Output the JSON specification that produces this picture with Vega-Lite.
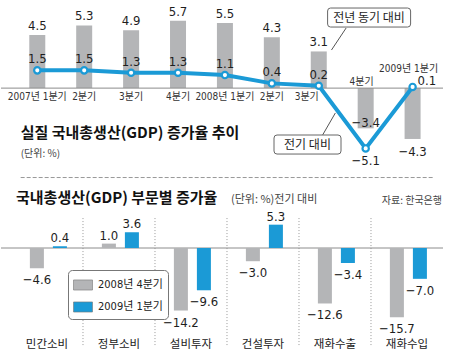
{
  "$schema": "https://vega.github.io/schema/vega-lite/v6.json",
  "padding": 0,
  "background": "white",
  "spacing": 0,
  "bounds": "flush",
  "config": {
    "view": {"stroke": null},
    "axis": {"disable": true},
    "text": {"font": "Liberation Sans Narrow, DejaVu Sans Condensed, Liberation Sans, Noto Sans CJK KR", "fontSize": 13, "color": "#1e1e1e"},
    "legend": {"labelFont": "Liberation Sans Narrow, DejaVu Sans Condensed, Liberation Sans, Noto Sans CJK KR"}
  },
  "resolve": {"scale": {"color": "independent"}, "legend": {"color": "independent"}},
  "datasets": {
    "quarters": [
      {"q": "2007년 1분기", "n": 0, "yoy": 4.5, "qoq": 1.5},
      {"q": "2분기", "n": 1, "yoy": 5.3, "qoq": 1.5},
      {"q": "3분기", "n": 2, "yoy": 4.9, "qoq": 1.3},
      {"q": "4분기", "n": 3, "yoy": 5.7, "qoq": 1.3},
      {"q": "2008년 1분기", "n": 4, "yoy": 5.5, "qoq": 1.1},
      {"q": "2분기", "n": 5, "yoy": 4.3, "qoq": 0.4},
      {"q": "3분기", "n": 6, "yoy": 3.1, "qoq": 0.2},
      {"q": "4분기", "n": 7, "yoy": -3.4, "qoq": -5.1},
      {"q": "2009년 1분기", "n": 8, "yoy": -4.3, "qoq": 0.1}
    ],
    "sectors": [
      {"cat": "민간소비", "period": "2008년 4분기", "value": -4.6},
      {"cat": "민간소비", "period": "2009년 1분기", "value": 0.4},
      {"cat": "정부소비", "period": "2008년 4분기", "value": 1.0},
      {"cat": "정부소비", "period": "2009년 1분기", "value": 3.6},
      {"cat": "설비투자", "period": "2008년 4분기", "value": -14.2},
      {"cat": "설비투자", "period": "2009년 1분기", "value": -9.6},
      {"cat": "건설투자", "period": "2008년 4분기", "value": -3.0},
      {"cat": "건설투자", "period": "2009년 1분기", "value": 5.3},
      {"cat": "재화수출", "period": "2008년 4분기", "value": -12.6},
      {"cat": "재화수출", "period": "2009년 1분기", "value": -3.4},
      {"cat": "재화수입", "period": "2008년 4분기", "value": -15.7},
      {"cat": "재화수입", "period": "2009년 1분기", "value": -7.0}
    ],
    "one": [{}]
  },
  "vconcat": [
    {
      "width": 442,
      "height": 178,
      "layer": [
        {
          "data": {"name": "quarters"},
          "mark": {"type": "bar", "width": 16, "color": "#b4b5b7"},
          "encoding": {
            "x": {"field": "n", "type": "quantitative", "scale": {"domain": [-0.6667, 8.5417], "nice": false, "zero": false}, "axis": null},
            "y": {"field": "yoy", "type": "quantitative", "scale": {"domain": [-7.6, 7.45], "nice": false, "zero": false}, "axis": null},
            "y2": {"datum": 0}
          }
        },
        {
          "data": {"name": "one"},
          "mark": {"type": "rule", "color": "#8c8c8c", "strokeWidth": 1},
          "encoding": {"y": {"datum": 0, "axis": null}}
        },
        {
          "data": {"name": "one"},
          "mark": {"type": "rule", "color": "#999999", "strokeWidth": 1, "strokeDash": [4, 2]},
          "encoding": {"x": {"datum": -0.354, "axis": null}, "x2": {"datum": 8.4375}, "y": {"datum": -7.56, "axis": null}}
        },
        {
          "data": {"name": "quarters"},
          "transform": [{"filter": "datum.yoy > 0"}],
          "mark": {"type": "text", "baseline": "alphabetic", "dy": -5},
          "encoding": {
            "x": {"field": "n", "type": "quantitative", "axis": null},
            "y": {"field": "yoy", "type": "quantitative", "axis": null},
            "text": {"field": "yoy", "type": "quantitative", "format": ".1f"}
          }
        },
        {
          "data": {"name": "quarters"},
          "transform": [{"filter": "datum.n == 8"}],
          "mark": {"type": "text", "baseline": "top", "dy": 7},
          "encoding": {
            "x": {"field": "n", "type": "quantitative", "axis": null},
            "y": {"field": "yoy", "type": "quantitative", "axis": null},
            "text": {"field": "yoy", "type": "quantitative", "format": ".1f"}
          }
        },
        {
          "data": {"name": "quarters"},
          "transform": [{"filter": "datum.n == 7"}],
          "mark": {"type": "text", "baseline": "alphabetic", "dy": -1},
          "encoding": {
            "x": {"field": "n", "type": "quantitative", "axis": null},
            "y": {"field": "yoy", "type": "quantitative", "axis": null},
            "text": {"field": "yoy", "type": "quantitative", "format": ".1f"}
          }
        },
        {
          "data": {"name": "quarters"},
          "mark": {"type": "line", "color": "#1b9ad6", "strokeWidth": 4},
          "encoding": {
            "x": {"field": "n", "type": "quantitative", "axis": null},
            "y": {"field": "qoq", "type": "quantitative", "axis": null}
          }
        },
        {
          "data": {"name": "quarters"},
          "mark": {"type": "point", "shape": "circle", "filled": true, "fill": "white", "stroke": "#1b9ad6", "strokeWidth": 2.2, "size": 40, "opacity": 1},
          "encoding": {
            "x": {"field": "n", "type": "quantitative", "axis": null},
            "y": {"field": "qoq", "type": "quantitative", "axis": null}
          }
        },
        {
          "data": {"name": "quarters"},
          "transform": [{"filter": "datum.n < 7"}],
          "mark": {"type": "text", "baseline": "alphabetic", "dy": -7},
          "encoding": {
            "x": {"field": "n", "type": "quantitative", "axis": null},
            "y": {"field": "qoq", "type": "quantitative", "axis": null},
            "text": {"field": "qoq", "type": "quantitative", "format": ".1f"}
          }
        },
        {
          "data": {"name": "quarters"},
          "transform": [{"filter": "datum.n == 7"}],
          "mark": {"type": "text", "baseline": "top", "dy": 7},
          "encoding": {
            "x": {"field": "n", "type": "quantitative", "axis": null},
            "y": {"field": "qoq", "type": "quantitative", "axis": null},
            "text": {"field": "qoq", "type": "quantitative", "format": ".1f"}
          }
        },
        {
          "data": {"name": "quarters"},
          "transform": [{"filter": "datum.n == 8"}],
          "mark": {"type": "text", "baseline": "alphabetic", "align": "left", "dx": 5, "dy": -2},
          "encoding": {
            "x": {"field": "n", "type": "quantitative", "axis": null},
            "y": {"field": "qoq", "type": "quantitative", "axis": null},
            "text": {"field": "qoq", "type": "quantitative", "format": ".1f"}
          }
        },
        {
          "data": {"name": "quarters"},
          "transform": [{"filter": "datum.n <= 5"}],
          "mark": {"type": "text", "baseline": "top", "dy": 4, "fontSize": 10, "color": "#333333"},
          "encoding": {
            "x": {"field": "n", "type": "quantitative", "axis": null},
            "y": {"datum": 0, "axis": null},
            "text": {"field": "q"}
          }
        },
        {
          "data": {"name": "quarters"},
          "transform": [{"filter": "datum.n == 6"}],
          "mark": {"type": "text", "baseline": "top", "dy": 4, "dx": -12, "fontSize": 10, "color": "#333333"},
          "encoding": {
            "x": {"field": "n", "type": "quantitative", "axis": null},
            "y": {"datum": 0, "axis": null},
            "text": {"field": "q"}
          }
        },
        {
          "data": {"name": "quarters"},
          "transform": [{"filter": "datum.n == 7"}],
          "mark": {"type": "text", "baseline": "alphabetic", "dy": -3, "dx": -4, "fontSize": 10, "color": "#333333"},
          "encoding": {
            "x": {"field": "n", "type": "quantitative", "axis": null},
            "y": {"datum": 0, "axis": null},
            "text": {"field": "q"}
          }
        },
        {
          "data": {"name": "quarters"},
          "transform": [{"filter": "datum.n == 8"}],
          "mark": {"type": "text", "baseline": "alphabetic", "dy": -16, "dx": -4, "fontSize": 10, "color": "#333333"},
          "encoding": {
            "x": {"field": "n", "type": "quantitative", "axis": null},
            "y": {"datum": 0, "axis": null},
            "text": {"field": "q"}
          }
        },
        {
          "data": {"name": "one"},
          "mark": {"type": "rule", "color": "#555555", "strokeWidth": 1},
          "encoding": {"x": {"datum": 6.583, "axis": null}, "y": {"datum": 5.08, "axis": null}, "x2": {"datum": 6.271}, "y2": {"datum": 3.22}}
        },
        {
          "data": {"name": "one"},
          "mark": {"type": "point", "shape": "M-0.928,-0.229H0.928Q1,-0.229 1,-0.157V0.157Q1,0.229 0.928,0.229H-0.928Q-1,0.229 -1,0.157V-0.157Q-1,-0.229 -0.928,-0.229Z", "size": 6889, "filled": true, "fill": "white", "stroke": "#666666", "strokeWidth": 1, "opacity": 1},
          "encoding": {"x": {"datum": 7.073, "axis": null}, "y": {"datum": 5.968, "axis": null}}
        },
        {
          "data": {"name": "one"},
          "mark": {"type": "text", "text": "전년 동기 대비", "font": "Noto Sans CJK KR", "fontSize": 12, "baseline": "middle", "color": "#1e1e1e"},
          "encoding": {"x": {"datum": 7.073, "axis": null}, "y": {"datum": 5.968, "axis": null}}
        },
        {
          "data": {"name": "one"},
          "mark": {"type": "rule", "color": "#555555", "strokeWidth": 1},
          "encoding": {"x": {"datum": 6.083, "axis": null}, "y": {"datum": -3.96, "axis": null}, "x2": {"datum": 6.354}, "y2": {"datum": -2.1}}
        },
        {
          "data": {"name": "one"},
          "mark": {"type": "point", "shape": "M-0.910,-0.284H0.910Q1,-0.284 1,-0.194V0.194Q1,0.284 0.910,0.284H-0.910Q-1,0.284 -1,0.194V-0.194Q-1,-0.284 -0.910,-0.284Z", "size": 4489, "filled": true, "fill": "white", "stroke": "#666666", "strokeWidth": 1, "opacity": 1},
          "encoding": {"x": {"datum": 5.76, "axis": null}, "y": {"datum": -4.77, "axis": null}}
        },
        {
          "data": {"name": "one"},
          "mark": {"type": "text", "text": "전기 대비", "font": "Noto Sans CJK KR", "fontSize": 12, "baseline": "middle", "color": "#1e1e1e"},
          "encoding": {"x": {"datum": 5.76, "axis": null}, "y": {"datum": -4.77, "axis": null}}
        },
        {
          "data": {"name": "one"},
          "mark": {"type": "text", "text": "실질 국내총생산(GDP) 증가율 추이", "font": "Noto Sans CJK KR", "fontSize": 15, "fontWeight": "bold", "align": "left", "baseline": "alphabetic", "color": "#111111"},
          "encoding": {"x": {"datum": -0.354, "axis": null}, "y": {"datum": -4.22, "axis": null}}
        },
        {
          "data": {"name": "one"},
          "mark": {"type": "text", "text": "(단위: %)", "font": "Noto Sans CJK KR", "fontSize": 10, "align": "left", "baseline": "alphabetic", "color": "#444444"},
          "encoding": {"x": {"datum": -0.354, "axis": null}, "y": {"datum": -5.82, "axis": null}}
        }
      ]
    },
    {
      "width": 442,
      "height": 177,
      "layer": [
        {
          "data": {"name": "sectors"},
          "transform": [{"filter": "datum.period == '2008년 4분기' && datum.cat != '민간소비'"}],
          "mark": {"type": "rule", "color": "#9a9a9a", "strokeWidth": 1, "strokeDash": [1, 2]},
          "encoding": {
            "x": {"field": "cat", "type": "nominal", "bandPosition": 0, "scale": {"domain": ["민간소비", "정부소비", "설비투자", "건설투자", "재화수출", "재화수입"], "paddingInner": 0, "paddingOuter": 0.0694, "align": 1}, "axis": null},
            "y": {"datum": 6.8, "scale": {"domain": [-24.3, 15.9], "nice": false, "zero": false}, "axis": null},
            "y2": {"datum": -22.5}
          }
        },
        {
          "data": {"name": "one"},
          "mark": {"type": "rule", "color": "#8c8c8c", "strokeWidth": 1},
          "encoding": {"y": {"datum": 0, "axis": null}}
        },
        {
          "data": {"name": "sectors"},
          "mark": {"type": "bar"},
          "encoding": {
            "x": {"field": "cat", "type": "nominal", "axis": null},
            "xOffset": {"field": "period", "type": "nominal", "scale": {"domain": ["2008년 4분기", "2009년 1분기"], "paddingInner": 0.391, "paddingOuter": 0.76, "align": 0.54}},
            "y": {"field": "value", "type": "quantitative", "axis": null},
            "color": {
              "field": "period",
              "type": "nominal",
              "scale": {"domain": ["2008년 4분기", "2009년 1분기"], "range": ["#b4b5b7", "#1b9ad6"]},
              "legend": {
                "title": null,
                "orient": "none",
                "legendX": 67,
                "legendY": 92,
                "direction": "vertical",
                "fillColor": "white",
                "strokeColor": "#777777",
                "cornerRadius": 4,
                "padding": 5,
                "symbolType": "M-1,-0.53H1V0.53H-1Z",
                "symbolSize": 361,
                "symbolStrokeWidth": 0.6,
                "symbolStrokeColor": "#777777",
                "labelFontSize": 11,
                "labelColor": "#222222",
                "rowPadding": 5,
                "labelOffset": 5
              }
            }
          }
        },
        {
          "data": {"name": "sectors"},
          "transform": [{"filter": "datum.value > 0"}],
          "mark": {"type": "text", "baseline": "alphabetic", "dy": -4},
          "encoding": {
            "x": {"field": "cat", "type": "nominal", "axis": null},
            "xOffset": {"field": "period", "type": "nominal"},
            "y": {"field": "value", "type": "quantitative", "axis": null},
            "text": {"field": "value", "type": "quantitative", "format": ".1f"}
          }
        },
        {
          "data": {"name": "sectors"},
          "transform": [{"filter": "datum.value < 0"}],
          "mark": {"type": "text", "baseline": "top", "dy": 6},
          "encoding": {
            "x": {"field": "cat", "type": "nominal", "axis": null},
            "xOffset": {"field": "period", "type": "nominal"},
            "y": {"field": "value", "type": "quantitative", "axis": null},
            "text": {"field": "value", "type": "quantitative", "format": ".1f"}
          }
        },
        {
          "data": {"name": "sectors"},
          "transform": [{"filter": "datum.period == '2008년 4분기'"}],
          "mark": {"type": "text", "baseline": "middle", "font": "Noto Sans CJK KR", "fontSize": 11.5, "color": "#222222"},
          "encoding": {
            "x": {"field": "cat", "type": "nominal", "axis": null},
            "y": {"datum": -22, "axis": null},
            "text": {"field": "cat"}
          }
        },
        {
          "data": {"name": "one"},
          "mark": {"type": "text", "text": "국내총생산(GDP) 부문별 증가율", "font": "Noto Sans CJK KR", "fontSize": 15, "fontWeight": "bold", "align": "left", "baseline": "alphabetic", "dx": 5, "color": "#111111"},
          "encoding": {"x": {"datum": "민간소비", "bandPosition": 0, "axis": null}, "y": {"datum": 10.2, "axis": null}}
        },
        {
          "data": {"name": "one"},
          "mark": {"type": "text", "text": "(단위: %)전기 대비", "font": "Noto Sans CJK KR", "fontSize": 11, "align": "left", "baseline": "alphabetic", "dx": 4, "color": "#444444"},
          "encoding": {"x": {"datum": "건설투자", "bandPosition": 0, "axis": null}, "y": {"datum": 10.2, "axis": null}}
        },
        {
          "data": {"name": "one"},
          "mark": {"type": "text", "text": "자료: 한국은행", "font": "Noto Sans CJK KR", "fontSize": 10, "align": "right", "baseline": "alphabetic", "dx": -1, "color": "#444444"},
          "encoding": {"x": {"datum": "재화수입", "bandPosition": 1, "axis": null}, "y": {"datum": 10.0, "axis": null}}
        }
      ]
    }
  ]
}
